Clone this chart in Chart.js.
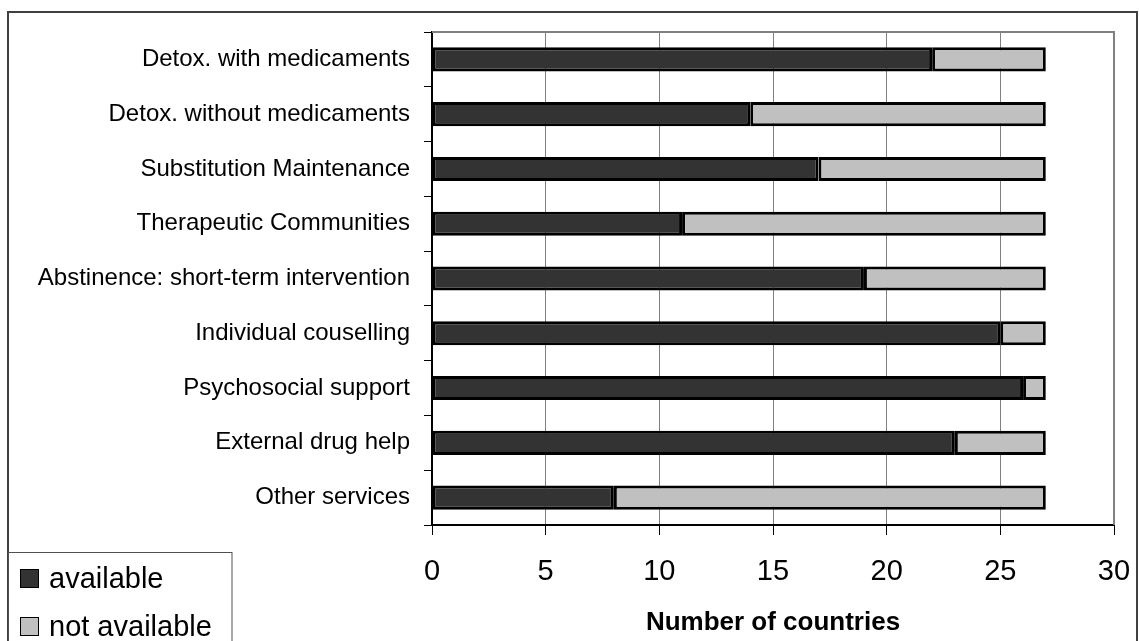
<!DOCTYPE html>
<html>
<head>
<meta charset="utf-8">
<script src="https://cdn.jsdelivr.net/npm/chart.js@4.4.0/dist/chart.umd.min.js"></script>
<style>
  html, body { margin: 0; padding: 0; background: #ffffff; }
  #wrap { width: 1139px; height: 641px; position: relative; }
</style>
</head>
<body>
<div id="wrap"><canvas id="c" width="1139" height="641"></canvas></div>
<script>
const categories = [
  "Detox. with medicaments",
  "Detox. without medicaments",
  "Substitution Maintenance",
  "Therapeutic Communities",
  "Abstinence: short-term intervention",
  "Individual couselling",
  "Psychosocial support",
  "External drug help",
  "Other services"
];
const available = [22, 14, 17, 11, 19, 25, 26, 23, 8];
const notAvailable = [5, 13, 10, 16, 8, 2, 1, 4, 19];
const seriesNames = ["available", "not available"];
const xTicks = [0, 5, 10, 15, 20, 25, 30];
const xTitle = "Number of countries";

const FONT = "'Liberation Sans', Arial, sans-serif";

const framePlugin = {
  id: 'frame',
  beforeDraw(chart) {
    const ctx = chart.ctx;
    ctx.save();
    ctx.fillStyle = '#ffffff';
    ctx.fillRect(0, 0, chart.width, chart.height);
    ctx.restore();
  },
  afterDraw(chart) {
    const ctx = chart.ctx;
    const a = chart.chartArea;
    ctx.save();
    // plot area top / right border
    ctx.strokeStyle = '#808080';
    ctx.lineWidth = 2;
    ctx.beginPath();
    ctx.moveTo(a.left, a.top);
    ctx.lineTo(a.right, a.top);
    ctx.lineTo(a.right, a.bottom);
    ctx.stroke();
    // outer border
    ctx.strokeStyle = '#404040';
    ctx.lineWidth = 2;
    ctx.strokeRect(8, 12, 1129, 700);
    // legend box
    ctx.strokeStyle = '#505050';
    ctx.lineWidth = 1;
    ctx.fillStyle = '#ffffff';
    ctx.fillRect(8.5, 552.5, 223.5, 100);
    ctx.strokeRect(8.5, 552.5, 223.5, 100);
    const ds = chart.data.datasets;
    const rows = [579, 627];
    ds.forEach((d, i) => {
      const cy = rows[i];
      ctx.fillStyle = d.backgroundColor;
      ctx.fillRect(20.5, cy - 9.5, 18, 18);
      ctx.strokeStyle = '#000000';
      ctx.lineWidth = 1;
      ctx.strokeRect(20.5, cy - 9.5, 18, 18);
      ctx.fillStyle = '#000000';
      ctx.font = '29px ' + FONT;
      ctx.textBaseline = 'middle';
      ctx.textAlign = 'left';
      ctx.fillText(d.label, 49, cy + 1);
    });
    ctx.restore();
  }
};

new Chart(document.getElementById('c'), {
  type: 'bar',
  data: {
    labels: categories,
    datasets: [
      {
        label: seriesNames[0],
        data: available,
        backgroundColor: '#333333',
        borderColor: '#000000',
        borderWidth: 3,
        borderSkipped: false,
        barPercentage: 0.44,
        categoryPercentage: 1.0
      },
      {
        label: seriesNames[1],
        data: notAvailable,
        backgroundColor: '#c0c0c0',
        borderColor: '#000000',
        borderWidth: 3,
        borderSkipped: false,
        barPercentage: 0.44,
        categoryPercentage: 1.0
      }
    ]
  },
  options: {
    indexAxis: 'y',
    responsive: false,
    animation: false,
    devicePixelRatio: 1,
    layout: { padding: { left: 0, top: 32, right: 25, bottom: 0 } },
    plugins: {
      legend: { display: false },
      tooltip: { enabled: false },
      title: { display: false }
    },
    scales: {
      x: {
        stacked: true,
        min: 0,
        max: 30,
        afterBuildTicks(scale) {
          scale.ticks = xTicks.map(v => ({ value: v }));
        },
        afterFit(scale) {
          scale.height = 116;
          scale.paddingLeft = 0;
          scale.paddingRight = 0;
        },
        grid: {
          color: '#808080',
          lineWidth: 1,
          drawTicks: true,
          tickLength: 10,
          tickColor: '#000000',
          tickWidth: 1
        },
        border: { display: true, color: '#000000', width: 2 },
        ticks: {
          color: '#000000',
          font: { family: FONT, size: 29 },
          padding: 20,
          maxRotation: 0
        },
        title: {
          display: true,
          text: xTitle,
          color: '#000000',
          font: { family: FONT, size: 26, weight: 'bold' },
          padding: { top: 0, bottom: 3 }
        }
      },
      y: {
        stacked: true,
        afterFit(scale) {
          scale.width = 432;
          scale.paddingTop = 0;
          scale.paddingBottom = 0;
        },
        grid: {
          offset: true,
          drawOnChartArea: false,
          drawTicks: true,
          tickLength: 8,
          tickColor: '#000000',
          tickWidth: 1
        },
        border: { display: true, color: '#000000', width: 2 },
        ticks: {
          color: '#000000',
          font: { family: FONT, size: 24 },
          padding: 14,
          autoSkip: false
        }
      }
    }
  },
  plugins: [framePlugin]
});
</script>
</body>
</html>
